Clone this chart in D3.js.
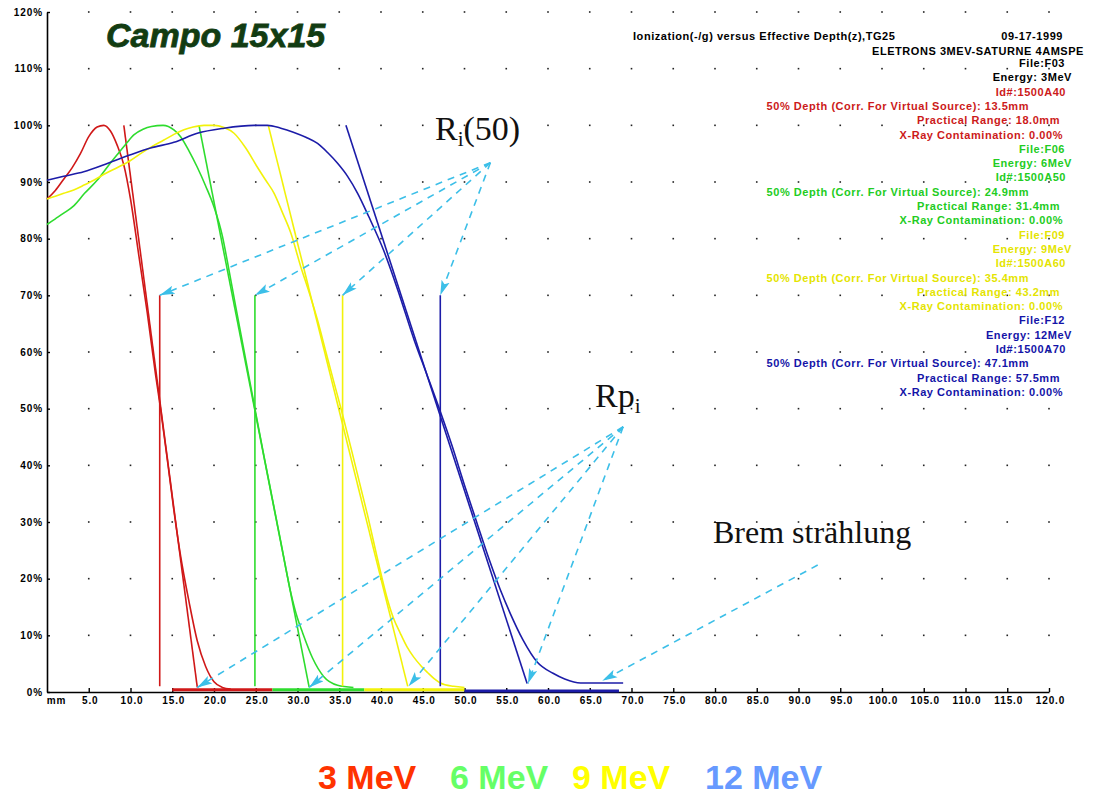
<!DOCTYPE html>
<html>
<head>
<meta charset="utf-8">
<script src="https://cdn.jsdelivr.net/npm/d3@7"></script>
<style>
  html,body{margin:0;padding:0;background:#fff;}
  svg{display:block;}
  .small{font-family:"Liberation Sans",Arial,sans-serif;font-weight:bold;font-size:10px;letter-spacing:0.9px;}
  .info{font-family:"Liberation Sans",Arial,sans-serif;font-weight:bold;font-size:11px;letter-spacing:0.55px;}
  .serif{font-family:"Liberation Serif","Times New Roman",serif;}
</style>
</head>
<body>
<svg id="chart" width="1096" height="795"></svg>
<script>
// ---------------- DATA ----------------
const xTickValues = [0,5,10,15,20,25,30,35,40,45,50,55,60,65,70,75,80,85,90,95,100,105,110,115,120];
const yTickValues = [0,10,20,30,40,50,60,70,80,90,100,110,120];

const seriesNames = ["3 MeV","6 MeV","9 MeV","12 MeV"];

// depth-dose curves: [depth mm, % ionization]
const curve3 = [[0,87],[1,88.5],[2,90.5],[3,92.5],[4,95],[5,98],[6,99.7],[6.8,100],[7.6,99],[8.4,96.5],[9.2,93],[10,87],[11,77],[12,67],[13,56],[13.6,50],[14.5,40],[15.2,32],[16,24],[17,16],[18,9],[19,4.5],[20,1.8],[21,0.8],[22,0.5]];
const curve6 = [[0,82.5],[1,83.5],[2,84.5],[3.2,85.8],[4.5,88],[6,90.3],[7.3,92.8],[8.5,95],[9.5,96.8],[10.4,98.3],[11.5,99.3],[12.5,99.8],[13.9,100],[15.2,99.2],[16,98],[17,95.5],[18,92.6],[19,89.3],[20,85.6],[21,80.5],[21.6,76],[22.6,68],[23.5,61],[24.9,50],[26,41.5],[27,34],[28,26.5],[29.2,17.5],[30,13],[30.6,10.5],[31.8,6],[33.1,2.8],[34.8,1.2],[36.7,0.8]];
const curve9 = [[0,87],[1,87.5],[2,88],[3.2,88.6],[4.5,89.5],[5.6,90.3],[7,91.5],[8.5,92.6],[10,93.8],[11.2,95],[12.5,96.2],[14,97.4],[15.2,98.4],[16.4,99.2],[17.5,99.7],[18.8,100],[20,100],[21.2,99.6],[22.4,98.6],[23.8,96],[25.2,92.6],[26.2,90.3],[27.2,88],[28.2,84.6],[29.2,81],[30.4,75],[31.4,70.5],[32.4,65.6],[33.4,60],[34.3,55],[35.3,49.5],[36.5,42.5],[37.5,36.5],[38.5,30.5],[39.5,24],[40.8,16.2],[41.5,13],[42.3,10.4],[43.1,8],[43.9,6.2],[44.8,4.6],[45.6,3.4],[46.4,2.3],[47.1,1.6],[48.7,1],[50,0.8]];
const curve12 = [[0,90.3],[2,91],[4.4,91.8],[7.3,93.3],[10,94.8],[12.4,96],[15.2,97],[18,98.6],[21.2,99.5],[24.8,100],[26.4,100],[28,99.5],[29.5,98.8],[31,97.9],[32.4,96.8],[33.6,95.2],[34.8,93.3],[36,91],[37.2,88],[38.5,84],[40.3,78],[42,71],[44,62],[45.5,56],[47.1,49.5],[48.5,43.5],[50,36.5],[51.5,29.8],[53,23.2],[54.3,18],[55.5,13.8],[57,9.2],[58.7,5.3],[60.6,3.3],[62,2.3],[63.9,1.6],[69,1.6]];

// tangent lines through the falloff: [[depth,%],[depth,%]]
const tangent3  = [[9.2,100],[18.0,0.8]];
const tangent6  = [[18.2,100],[31.4,0.8]];
const tangent9  = [[26.5,100],[43.2,1]];
const tangent12 = [[35.8,100],[57.5,1.5]];

// R50 (50% depth) and practical range values, mm
const r50Values = [13.5,24.9,35.4,47.1];
const rpValues  = [18.0,31.4,43.2,57.5];
const r50LineRange = [1,70];   // % span of the vertical markers

// low tails drawn along the axis: [start mm, end mm, %]
const tails = [[15,27,0.3],[27,38,0.3],[38,50,0.3],[50,68.5,0.1]];

// annotation arrows
const ri50Source = [53.1,93.4];
const rpSource   = [69,46.8];
const rpTips     = [[18.0,0.8],[31.4,0.8],[43.3,1.0],[57.6,1.5]];
const bremSource = [92.3,22.4];
const bremTip    = [66.5,2.0];

// info block
const infoHeader = ["Ionization(-/g) versus Effective Depth(z),TG25","09-17-1999","ELETRONS 3MEV-SATURNE 4AMSPE"];
const infoFiles   = ["File:F03","File:F06","File:F09","File:F12"];
const infoEnergy  = ["Energy: 3MeV","Energy: 6MeV","Energy: 9MeV","Energy: 12MeV"];
const infoIds     = ["Id#:1500A40","Id#:1500A50","Id#:1500A60","Id#:1500A70"];
const infoDepth   = ["50% Depth (Corr. For Virtual Source): 13.5mm","50% Depth (Corr. For Virtual Source): 24.9mm","50% Depth (Corr. For Virtual Source): 35.4mm","50% Depth (Corr. For Virtual Source): 47.1mm"];
const infoRange   = ["Practical Range: 18.0mm","Practical Range: 31.4mm","Practical Range: 43.2mm","Practical Range: 57.5mm"];
const infoXray    = ["X-Ray Contamination: 0.00%","X-Ray Contamination: 0.00%","X-Ray Contamination: 0.00%","X-Ray Contamination: 0.00%"];

// ---------------- STYLE ----------------
const curveColors = ["#d01818","#2edc2e","#f2f20a","#1c1ca8"];
const textColors  = ["#cc1a1a","#22cc22","#e4e400","#1414a8"];
const legendColors= ["#ff3300","#66ff66","#ffff00","#6699ff"];
const arrowColor  = "#3cbfe8";

// ---------------- DRAW ----------------
const svg = d3.select("#chart");
const x = d3.scaleLinear().domain([0,120]).range([47,1049]);
const y = d3.scaleLinear().domain([0,120]).range([692,12]);

// dot grid
const dots = [];
xTickValues.filter(v=>v>0).forEach(a=>yTickValues.filter(v=>v>0).forEach(b=>dots.push([a,b])));
svg.append("g").selectAll("rect").data(dots).join("rect")
  .attr("x",d=>x(d[0])-0.8).attr("y",d=>y(d[1])-0.8)
  .attr("width",1.6).attr("height",1.6).attr("fill","#222");

// axes
const xAxis = svg.append("g").attr("transform",`translate(0,${y(0)})`)
  .call(d3.axisBottom(x).tickValues(xTickValues).tickSizeInner(-4).tickSizeOuter(0)
        .tickFormat(d=>d===0?"mm":d.toFixed(1)));
xAxis.select(".domain").attr("stroke","#000").attr("stroke-width",1.6);
xAxis.selectAll(".tick line").attr("stroke","#000").attr("stroke-width",1.4);
xAxis.selectAll(".tick text").attr("class","small").attr("fill","#000").attr("dy","0.9em")
  .attr("dx",d=>d===0?9:1);
xAxis.selectAll(".tick").filter(d=>d===0).select("line").remove();

const yAxis = svg.append("g").attr("transform",`translate(${x(0)},0)`)
  .call(d3.axisLeft(y).tickValues(yTickValues).tickSizeInner(-3).tickSizeOuter(0).tickFormat(d=>d+"%"));
yAxis.select(".domain").attr("stroke","#000").attr("stroke-width",1.6);
yAxis.selectAll(".tick line").attr("stroke","#000").attr("stroke-width",1.4);
yAxis.selectAll(".tick text").attr("class","small").attr("fill","#000").attr("x",-4).attr("dy","0.32em");

// tails along axis
svg.append("g").selectAll("line").data(tails).join("line")
  .attr("x1",d=>x(d[0])).attr("x2",d=>x(d[1]))
  .attr("y1",d=>y(d[2])-0.5).attr("y2",d=>y(d[2])-0.5)
  .attr("stroke",(d,i)=>curveColors[i]).attr("stroke-width",3);

// curves
const line = d3.line().x(d=>x(d[0])).y(d=>y(d[1])).curve(d3.curveMonotoneX);
const lineStraight = d3.line().x(d=>x(d[0])).y(d=>y(d[1]));
const curves = [curve3,curve6,curve9,curve12];
const tangents = [tangent3,tangent6,tangent9,tangent12];

curves.forEach((c,i)=>{
  svg.append("path").attr("d",line(c)).attr("fill","none")
    .attr("stroke",curveColors[i]).attr("stroke-width",1.6);
  svg.append("path").attr("d",lineStraight(tangents[i])).attr("fill","none")
    .attr("stroke",curveColors[i]).attr("stroke-width",1.6);
  svg.append("line")
    .attr("x1",x(r50Values[i])).attr("x2",x(r50Values[i]))
    .attr("y1",y(r50LineRange[0])).attr("y2",y(r50LineRange[1]))
    .attr("stroke",curveColors[i]).attr("stroke-width",1.6);
});

// arrows
const defs = svg.append("defs");
defs.append("marker").attr("id","ah").attr("viewBox","0 0 14 8")
  .attr("refX",14).attr("refY",4).attr("markerWidth",15).attr("markerHeight",9)
  .attr("markerUnits","userSpaceOnUse").attr("orient","auto")
  .append("path").attr("d","M0,0 L14,4 L0,8 L3,4 Z").attr("fill",arrowColor);

const arrows = [];
r50Values.forEach(v=>arrows.push([ri50Source,[v,r50LineRange[1]]]));
rpTips.forEach(t=>arrows.push([rpSource,t]));
arrows.push([bremSource,bremTip]);
svg.append("g").selectAll("line").data(arrows).join("line")
  .attr("x1",d=>x(d[0][0])).attr("y1",d=>y(d[0][1]))
  .attr("x2",d=>x(d[1][0])).attr("y2",d=>y(d[1][1]))
  .attr("stroke",arrowColor).attr("stroke-width",1.6)
  .attr("stroke-dasharray","7,6").attr("marker-end","url(#ah)");

// annotation labels
const ri = svg.append("text").attr("class","serif").attr("x",435).attr("y",140).attr("font-size",34).attr("fill","#111");
ri.append("tspan").text("R");
ri.append("tspan").attr("font-size",21).attr("dy",6).text("i");
ri.append("tspan").attr("dy",-6).text("(50)");

const rp = svg.append("text").attr("class","serif").attr("x",595).attr("y",407).attr("font-size",34).attr("fill","#111");
rp.append("tspan").text("Rp");
rp.append("tspan").attr("font-size",21).attr("dy",6).text("i");

svg.append("text").attr("class","serif").attr("x",713).attr("y",543).attr("font-size",32).attr("fill","#111")
  .text("Brem strählung");

// title
svg.append("text").attr("x",106).attr("y",47)
  .attr("font-family","Liberation Sans, Arial, sans-serif").attr("font-weight","bold")
  .attr("font-style","italic").attr("font-size",34).attr("fill","#123c12")
  .attr("stroke","#123c12").attr("stroke-width",0.8).text("Campo 15x15");

// info block
const info = svg.append("g").attr("class","info");
info.append("text").attr("x",633).attr("y",40).attr("fill","#000").text(infoHeader[0]);
info.append("text").attr("x",1063).attr("y",40).attr("text-anchor","end").attr("fill","#000").text(infoHeader[1]);
info.append("text").attr("x",872).attr("y",55).attr("fill","#000").text(infoHeader[2]);

const groups = [infoFiles,infoEnergy,infoIds,infoDepth,infoRange,infoXray];
const rightEdges = [1065,1072,1066,1029,1060,1063];
for(let s=0;s<4;s++){
  groups.forEach((g,k)=>{
    const row = s*6+k;
    let col = textColors[s];
    if(s===0 && k<2) col="#000";
    info.append("text").attr("x",rightEdges[k]).attr("y",67+row*14.3)
      .attr("text-anchor","end").attr("fill",col).text(g[s]);
  });
}

// legend
const legendX = [318,450,572,705];
svg.append("g").selectAll("text").data(seriesNames).join("text")
  .attr("x",(d,i)=>legendX[i]).attr("y",789)
  .attr("font-family","Liberation Sans, Arial, sans-serif").attr("font-weight","bold").attr("font-size",34)
  .attr("fill",(d,i)=>legendColors[i]).text(d=>d);
</script>
</body>
</html>
